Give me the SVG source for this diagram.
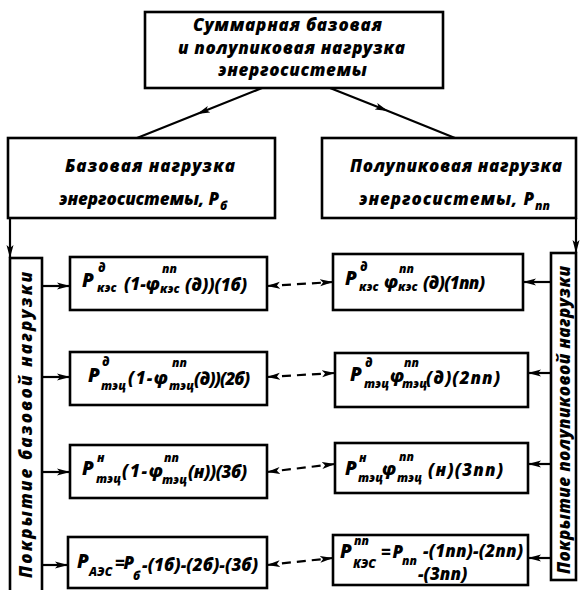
<svg xmlns="http://www.w3.org/2000/svg" width="581" height="590" viewBox="0 0 581 590">
<style>
.box{fill:#fff;stroke:#000;stroke-width:2.6}
.t{font-family:"Open Sans","Noto Sans","DejaVu Sans",sans-serif;font-style:italic;font-weight:800;fill:#000;font-size:17px}
.s{font-size:12px}
.f{font-size:19px}
.ln{stroke:#000;stroke-width:2.2;fill:none}
.dash{stroke-dasharray:9 6}
</style>
<defs>
<marker id="ah" markerUnits="userSpaceOnUse" markerWidth="14" markerHeight="8" refX="13" refY="4" orient="auto-start-reverse" viewBox="0 0 14 8">
<path d="M0,0.5 L13,4 L0,7.5 L3,4 z" fill="#000"/>
</marker>
</defs>
<rect width="581" height="590" fill="#fff"/>

<g id="connectors">
<path class="ln" d="M262,88 L197,114 L137,138" marker-mid="url(#ah)"/>
<path class="ln" d="M330,88 L388,111 L455,138" marker-mid="url(#ah)"/>
<path class="ln" d="M10,218 L10,258" marker-end="url(#ah)"/>
<path class="ln" d="M576,218 L576,253" marker-end="url(#ah)"/>
<path class="ln" d="M42,286 L70,286" marker-end="url(#ah)"/>
<path class="ln" d="M42,377 L70,377" marker-end="url(#ah)"/>
<path class="ln" d="M42,472 L70,472" marker-end="url(#ah)"/>
<path class="ln" d="M42,565 L68,565" marker-end="url(#ah)"/>
<path class="ln" d="M551,282 L523,282" marker-end="url(#ah)"/>
<path class="ln" d="M551,373 L528,373" marker-end="url(#ah)"/>
<path class="ln" d="M551,464 L528,464" marker-end="url(#ah)"/>
<path class="ln" d="M551,558 L528,558" marker-end="url(#ah)"/>
<path class="ln dash" d="M267,286 L333,282" marker-start="url(#ah)" marker-end="url(#ah)"/>
<path class="ln dash" d="M267,377 L335,373" marker-start="url(#ah)" marker-end="url(#ah)"/>
<path class="ln dash" d="M267,472 L335,464" marker-start="url(#ah)" marker-end="url(#ah)"/>
<path class="ln dash" d="M267,565 L333,558" marker-start="url(#ah)" marker-end="url(#ah)"/>
</g>

<g id="top">
<rect class="box" x="145" y="12" width="298" height="76"/>
<text class="t" x="193" y="31" textLength="189">Суммарная базовая</text>
<text class="t" x="178" y="54" textLength="227">и полупиковая нагрузка</text>
<text class="t" x="218" y="76" textLength="149">энергосистемы</text>
</g>

<g id="base">
<rect class="box" x="8" y="138" width="267" height="80"/>
<text class="t" x="65" y="172" textLength="170">Базовая  нагрузка</text>
<text class="t" x="59" y="205" textLength="160">энергосистемы, P</text>
<text class="t s" x="220" y="210">б</text>
</g>

<g id="semipeak">
<rect class="box" x="322" y="138" width="254" height="80"/>
<text class="t" x="350" y="172" textLength="212">Полупиковая нагрузка</text>
<text class="t" x="359" y="205" textLength="175">энергосистемы, P</text>
<text class="t s" x="535" y="210">пп</text>
</g>

<g id="cover-base">
<rect class="box" x="10" y="258" width="32" height="334"/>
<text class="t" transform="translate(32,578) rotate(-90)" x="0" y="0" textLength="306">Покрытие базовой нагрузки</text>
</g>

<g id="cover-semipeak">
<rect class="box" x="551" y="253" width="25" height="327"/>
<text class="t" transform="translate(570,574) rotate(-90)" x="0" y="0" textLength="308">Покрытие полупиковой нагрузки</text>
</g>

<g id="b1">
<rect class="box" x="70" y="257" width="197" height="53"/>
<text class="t f" x="82" y="287">P</text>
<text class="t s" x="98" y="272">д</text>
<text class="t s" x="97" y="292">кэс</text>
<text class="t" x="124" y="290" textLength="36">(1-φ</text>
<text class="t s" x="162" y="273">пп</text>
<text class="t s" x="160" y="293">кэс</text>
<text class="t" x="185" y="291" textLength="62">(д))(1б)</text>
</g>

<g id="p1">
<rect class="box" x="333" y="254" width="190" height="56"/>
<text class="t f" x="345" y="285">P</text>
<text class="t s" x="360" y="271">д</text>
<text class="t s" x="359" y="291">кэс</text>
<text class="t" x="384" y="288">φ</text>
<text class="t s" x="399" y="273">пп</text>
<text class="t s" x="398" y="291">кэс</text>
<text class="t" x="423" y="289" textLength="62">(д)(1пп)</text>
</g>

<g id="b2">
<rect class="box" x="70" y="352" width="197" height="53"/>
<text class="t f" x="88" y="382">P</text>
<text class="t s" x="102" y="366">д</text>
<text class="t s" x="101" y="390">тэц</text>
<text class="t" x="128" y="384" textLength="40">(1-φ</text>
<text class="t s" x="172" y="367">пп</text>
<text class="t s" x="169" y="390">тэц</text>
<text class="t" x="194" y="385" textLength="56">(д))(2б)</text>
</g>

<g id="p2">
<rect class="box" x="335" y="353" width="193" height="54"/>
<text class="t f" x="350" y="381">P</text>
<text class="t s" x="365" y="367">д</text>
<text class="t s" x="364" y="388">тэц</text>
<text class="t" x="390" y="382">φ</text>
<text class="t s" x="404" y="367">пп</text>
<text class="t s" x="402" y="388">тэц</text>
<text class="t" x="426" y="384" textLength="74">(д)(2пп)</text>
</g>

<g id="b3">
<rect class="box" x="70" y="445" width="197" height="53"/>
<text class="t f" x="82" y="475">P</text>
<text class="t s" x="97" y="462">н</text>
<text class="t s" x="96" y="483">тэц</text>
<text class="t" x="122" y="477" textLength="41">(1-φ</text>
<text class="t s" x="164" y="462">пп</text>
<text class="t s" x="162" y="484">тэц</text>
<text class="t" x="188" y="478" textLength="59">(н))(3б)</text>
</g>

<g id="p3">
<rect class="box" x="335" y="443" width="193" height="50"/>
<text class="t f" x="345" y="475">P</text>
<text class="t s" x="359" y="462">н</text>
<text class="t s" x="358" y="482">тэц</text>
<text class="t" x="382" y="475">φ</text>
<text class="t s" x="399" y="461">пп</text>
<text class="t s" x="397" y="482">тэц</text>
<text class="t" x="428" y="476" textLength="75">(н)(3пп)</text>
</g>

<g id="b4">
<rect class="box" x="68" y="537" width="199" height="51"/>
<text class="t f" x="77" y="568">P</text>
<text class="t s" x="89" y="576">АЭС</text>
<text class="t" x="115" y="569" textLength="19">=P</text>
<text class="t s" x="133" y="580">б</text>
<text class="t" x="142" y="571" textLength="116">-(1б)-(2б)-(3б)</text>
</g>

<g id="p4">
<rect class="box" x="333" y="535" width="195" height="50"/>
<text class="t f" x="340" y="558">P</text>
<text class="t s" x="354" y="545">пп</text>
<text class="t s" x="353" y="568">КЭС</text>
<text class="t" x="381" y="558" textLength="22">=P</text>
<text class="t s" x="402" y="565">пп</text>
<text class="t" x="423" y="557" textLength="100">-(1пп)-(2пп)</text>
<text class="t" x="418" y="580">-(3пп)</text>
</g>
</svg>
